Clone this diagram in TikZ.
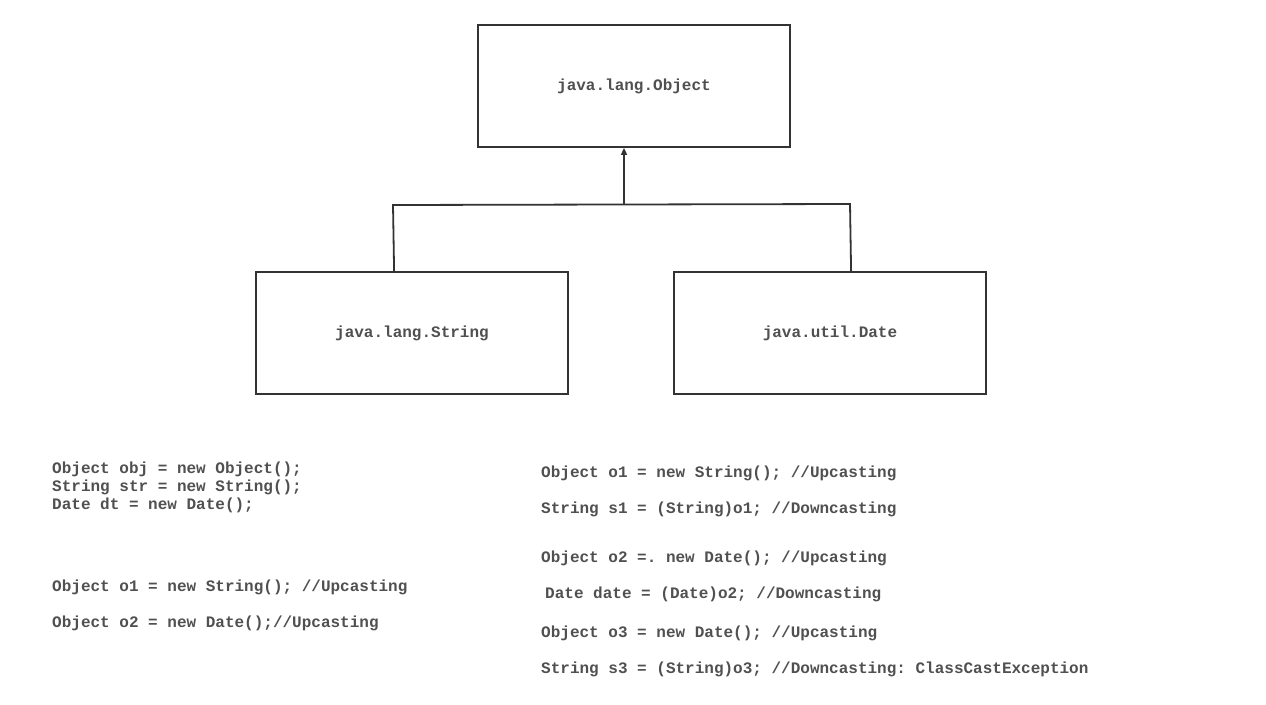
\documentclass[tikz,border=0pt]{standalone}
\usepackage{fontspec}
\setmonofont{Liberation Mono}
\usetikzlibrary{arrows.meta,calc}
\definecolor{txt}{HTML}{505050}
\definecolor{ln}{HTML}{333333}
\tikzset{
  cls/.style={draw=ln, line width=1.8pt, minimum width=312pt, minimum height=122pt, inner sep=0pt, font=\ttfamily\bfseries\fontsize{16}{18}\selectfont, text=txt},
  code/.style={anchor=west, inner sep=0pt, font=\ttfamily\bfseries\fontsize{16}{18}\selectfont, text=txt, align=left},
  conn/.style={draw=ln, line width=1.8pt},
}
\begin{document}
\begin{tikzpicture}[x=1pt,y=-1pt]
\useasboundingbox (0,0) rectangle (1266,704);
\node[cls] (obj) at (634,86) {java.lang.Object};
\node[cls] (str) at (412,333) {java.lang.String};
\node[cls] (dat) at (830,333) {java.util.Date};
\coordinate (sl) at ($(str.north west)+(139,0)$);
\coordinate (sh) at (393,205);
\coordinate (dl) at ($(dat.north west)+(178,0)$);
\coordinate (dh) at (850,204);
\coordinate (mid) at (624,204.5);
\draw[conn] (sl) -- (sh) -- (dh) -- (dl);
\draw[conn, -{Triangle[width=6pt,length=7pt]}] (mid) -- (mid |- obj.south);
\node[code] (a1) at (52,469) {Object obj = new Object();};
\node[code] (a2) at (52,487) {String str = new String();};
\node[code] (a3) at (52,505) {Date dt = new Date();};
\node[code] (a4) at (52,587) {Object o1 = new String(); //Upcasting};
\node[code] (a5) at (52,623) {Object o2 = new Date();//Upcasting};
\node[code] (b1) at (541,473) {Object o1 = new String(); //Upcasting};
\node[code] (b2) at (541,509) {String s1 = (String)o1; //Downcasting};
\node[code] (b3) at (541,558) {Object o2 =. new Date(); //Upcasting};
\node[code] (b4) at (545,594) {Date date = (Date)o2; //Downcasting};
\node[code] (b5) at (541,633) {Object o3 = new Date(); //Upcasting};
\node[code] (b6) at (541,669) {String s3 = (String)o3; //Downcasting: ClassCastException};
\end{tikzpicture}
\end{document}
